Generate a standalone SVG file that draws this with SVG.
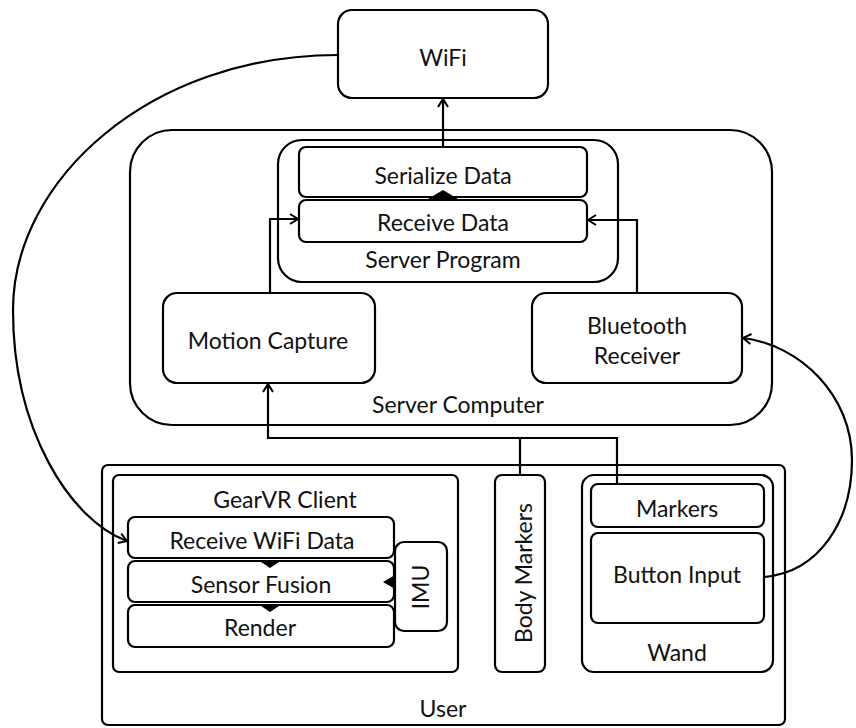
<svg xmlns="http://www.w3.org/2000/svg" width="856" height="728" viewBox="0 0 856 728">
<defs>
<marker id="arr" markerWidth="12" markerHeight="12" refX="10" refY="6" orient="auto" markerUnits="userSpaceOnUse">
<path d="M2,1 L10,6 L2,11" fill="none" stroke="#000" stroke-width="2"/>
</marker>
<style>
.b{fill:#fff;stroke:#000;stroke-width:2.2}
.c{fill:none;stroke:#000;stroke-width:2.2}
.t{font-family:Lato,"Open Sans","Liberation Sans",sans-serif;font-size:23px;fill:#111;text-anchor:middle}
.tri{fill:#000}
</style>
</defs>
<rect width="856" height="728" fill="#fff"/>

<g id="wifi"><rect class="b" x="338" y="10" width="210" height="88" rx="14"/><text class="t" x="443" y="66">WiFi</text></g>

<g id="server-computer"><rect class="b" x="130" y="130" width="642" height="295" rx="42"/><text class="t" x="458" y="413">Server Computer</text></g>

<g id="server-program"><rect class="b" x="278" y="140" width="340" height="142" rx="24"/><text class="t" x="443" y="268">Server Program</text></g>
<g id="serialize"><rect class="b" x="299" y="147" width="288" height="50" rx="7"/><text class="t" x="443" y="184">Serialize Data</text></g>
<g id="receive"><rect class="b" x="299" y="200" width="288" height="42" rx="7"/><text class="t" x="443" y="231">Receive Data</text></g>
<polygon class="tri" points="428,199 443,190 458,199"/>

<g id="motion-capture"><rect class="b" x="163" y="293" width="212" height="90" rx="14"/><text class="t" x="268" y="349">Motion Capture</text></g>
<g id="bluetooth"><rect class="b" x="532" y="293" width="210" height="90" rx="14"/><text class="t" x="637" y="334">Bluetooth</text><text class="t" x="637" y="364">Receiver</text></g>

<g id="user"><rect class="b" x="102" y="465" width="683" height="260" rx="6"/><text class="t" x="443" y="717">User</text></g>
<g id="gearvr"><rect class="b" x="113" y="475" width="345" height="197" rx="6"/><text class="t" x="285" y="508">GearVR Client</text></g>
<g id="receive-wifi"><rect class="b" x="128" y="517" width="266" height="41" rx="7"/><text class="t" x="262" y="549">Receive WiFi Data</text></g>
<g id="sensor-fusion"><rect class="b" x="128" y="561" width="266" height="41" rx="7"/><text class="t" x="261" y="593">Sensor Fusion</text></g>
<g id="render"><rect class="b" x="128" y="605" width="266" height="42" rx="7"/><text class="t" x="260" y="636">Render</text></g>
<g id="imu"><rect class="b" x="395" y="542" width="52" height="89" rx="9"/><text class="t" transform="translate(429,587) rotate(-90)" x="0" y="0">IMU</text></g>
<polygon class="tri" points="258,560 270,568 282,560"/>
<polygon class="tri" points="258,604 270,612 282,604"/>
<polygon class="tri" points="395,575 383,582 395,589"/>

<g id="body-markers"><rect class="b" x="495" y="475" width="50" height="197" rx="7"/><text class="t" transform="translate(532,573) rotate(-90)" x="0" y="0">Body Markers</text></g>

<g id="wand"><rect class="b" x="582" y="475" width="191" height="197" rx="12"/><text class="t" x="677" y="661">Wand</text></g>
<g id="markers"><rect class="b" x="591" y="484" width="173" height="43" rx="7"/><text class="t" x="677" y="517">Markers</text></g>
<g id="button-input"><rect class="b" x="591" y="533" width="173" height="90" rx="7"/><text class="t" x="677" y="583">Button Input</text></g>

<g id="connectors">
<path class="c" d="M443,147 L443,99" marker-end="url(#arr)"/>
<path class="c" d="M270,293 L270,219 L298,219" marker-end="url(#arr)"/>
<path class="c" d="M637,293 L637,220 L588,220" marker-end="url(#arr)"/>
<path class="c" d="M617,484 L617,438 L268,438 L268,384" marker-end="url(#arr)"/>
<path class="c" d="M520,475 L520,438"/>
<path class="c" d="M338,55 C150,55 13,180 13,310 C13,430 70,520 127,541" marker-end="url(#arr)"/>
<path class="c" d="M764,577 C820,572 852,520 852,460 C852,395 800,345 743,338" marker-end="url(#arr)"/>
</g>
</svg>
